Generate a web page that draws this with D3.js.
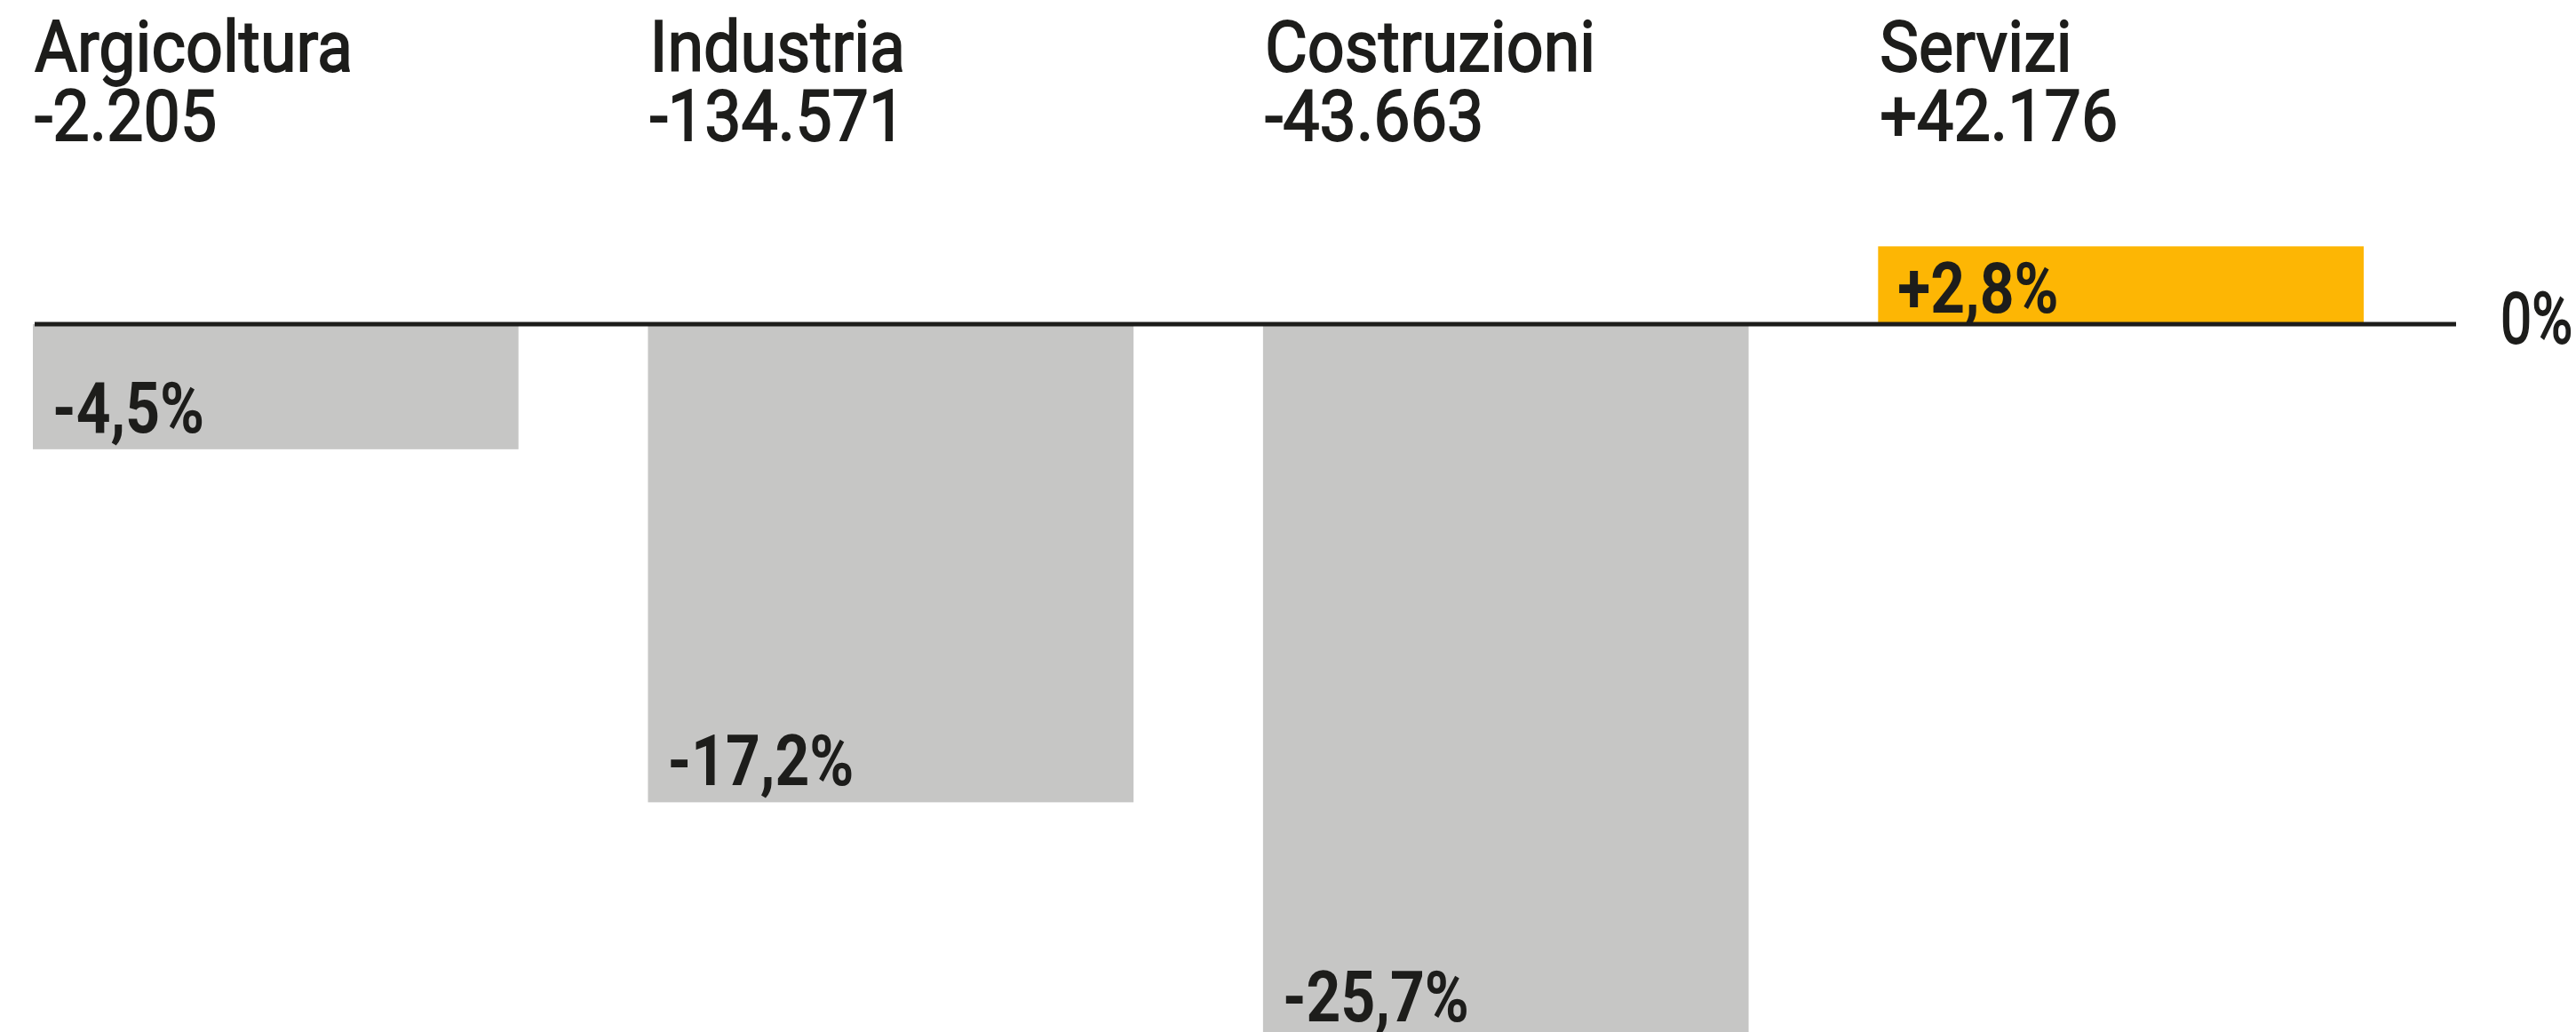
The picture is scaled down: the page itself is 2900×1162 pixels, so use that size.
<!DOCTYPE html>
<html><head><meta charset="utf-8">
<script src="https://cdn.jsdelivr.net/npm/d3@7"></script>
<style>html,body{margin:0;padding:0;background:#fff;overflow:hidden}</style>
</head><body>
<svg id="chart" width="2900" height="1162"></svg>
<script>
const categories = ["Argicoltura", "Industria", "Costruzioni", "Servizi"];
const pctChange = [-4.5, -17.2, -25.7, 2.8];
const absChange = [-2205, -134571, -43663, 42176];
const zeroTickLabel = "0%";

const svg = d3.select("#chart");
const loc = d3.formatLocale({decimal: ",", thousands: ".", grouping: [3], currency: ["", "€"], minus: "-"});
const fAbs = loc.format("+,d");
const fPct = v => (v < 0 ? loc.format(".1f")(v) : loc.format("+.1f")(v)) + "%";

const data = categories.map((c, i) => ({cat: c, pct: pctChange[i], abs: absChange[i]}));

const x = d3.scaleBand().domain(categories).range([37, 2661]).paddingInner(0.2105).paddingOuter(0);
const y = d3.scaleLinear().domain([0, -25.7]).range([365, 365 + 25.7 * 31.3]);

const ink = "#1d1d1b";
const font = "Roboto, 'Liberation Sans', sans-serif";
const sx = 0.92;

// bars
svg.append("g").selectAll("rect").data(data).join("rect")
  .attr("x", d => x(d.cat))
  .attr("width", x.bandwidth())
  .attr("y", d => y(Math.max(0, d.pct)))
  .attr("height", d => Math.abs(y(d.pct) - y(0)))
  .attr("fill", d => d.pct >= 0 ? "#fdb604" : "#c6c6c5");

// zero line
svg.append("line")
  .attr("x1", 39).attr("x2", 2765)
  .attr("y1", y(0)).attr("y2", y(0))
  .attr("stroke", ink).attr("stroke-width", 5);

// zero tick label
svg.append("text")
  .attr("transform", `translate(2896,${y(0) + 21}) scale(${sx * 0.85},1)`)
  .attr("text-anchor", "end")
  .attr("font-family", font).attr("font-size", 80).attr("font-weight", 400)
  .attr("stroke", ink).attr("stroke-width", 1.8)
  .attr("fill", ink).text(zeroTickLabel);

// headers (two lines in one text)
const hdr = svg.append("g").selectAll("text").data(data).join("text")
  .attr("transform", d => `translate(${x(d.cat) + 2},80) scale(${sx},1)`)
  .attr("font-family", font).attr("font-size", 80).attr("font-weight", 400)
  .attr("stroke", ink).attr("stroke-width", 1.8)
  .attr("fill", ink);
hdr.append("tspan").attr("x", 0).attr("y", 0).text(d => d.cat);
hdr.append("tspan").attr("x", 0).attr("y", 78).text(d => fAbs(d.abs));

// value labels inside bars
svg.append("g").selectAll("text").data(data).join("text")
  .attr("transform", d => {
    const by = d.pct < 0 ? y(d.pct) - 19 : y(0) - 13;
    return `translate(${x(d.cat) + 22},${by}) scale(${sx * 0.92},1)`;
  })
  .attr("font-family", font).attr("font-size", 80).attr("font-weight", 700)
  .attr("fill", ink).text(d => fPct(d.pct));
</script>
</body></html>
